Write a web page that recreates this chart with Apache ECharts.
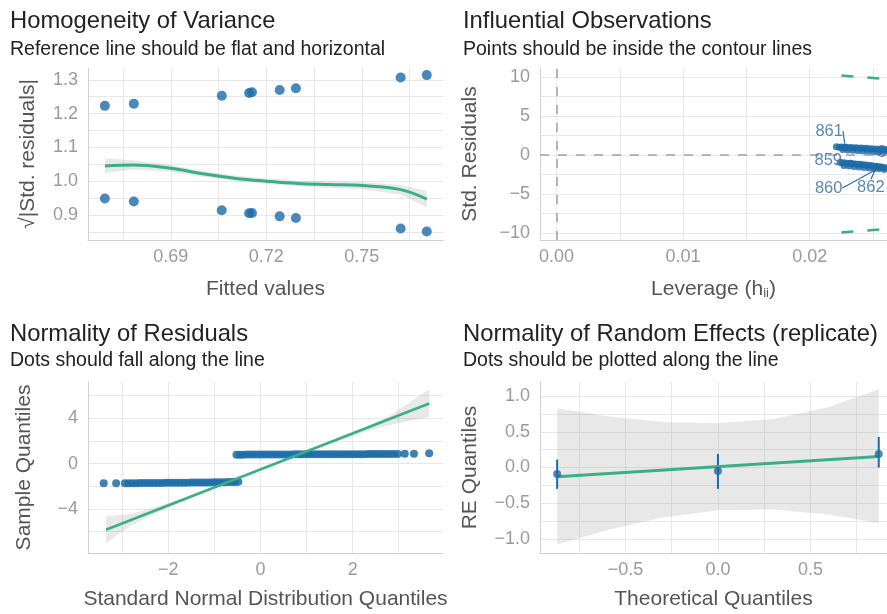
<!DOCTYPE html>
<html><head><meta charset="utf-8">
<script src="https://cdn.jsdelivr.net/npm/echarts@6/dist/echarts.min.js"></script>
<style>html,body{margin:0;padding:0;background:#fff}#c{width:887px;height:614px}</style>
</head><body><div id="c"></div>
<script>
// ---------- Panel 1: Homogeneity of Variance ----------
const hvFitted   = [0.6693, 0.6784, 0.7060, 0.7146, 0.7155, 0.7242, 0.7293, 0.7622, 0.7704];
const hvUpper    = [1.223, 1.229, 1.253, 1.261, 1.263, 1.270, 1.275, 1.307, 1.314];
const hvLower    = [0.949, 0.940, 0.914, 0.905, 0.906, 0.896, 0.891, 0.860, 0.851];
const hvSmoothX  = [0.6693, 0.6784, 0.690, 0.700, 0.710, 0.720, 0.730, 0.740, 0.750, 0.7622, 0.7704];
const hvSmoothY  = [1.045, 1.048, 1.038, 1.022, 1.009, 1.000, 0.993, 0.990, 0.987, 0.975, 0.947];
const hvSmoothLo = [1.024, 1.035, 1.028, 1.013, 1.001, 0.992, 0.985, 0.980, 0.976, 0.961, 0.923];
const hvSmoothHi = [1.068, 1.061, 1.048, 1.031, 1.017, 1.008, 1.001, 1.000, 0.998, 0.989, 0.972];
const hvXTicks = [0.69, 0.72, 0.75];
const hvXGrid  = [0.675, 0.69, 0.705, 0.72, 0.735, 0.75, 0.765];
const hvYTicks = [0.9, 1.0, 1.1, 1.2, 1.3];
const hvYGrid  = [0.85, 0.9, 0.95, 1.0, 1.05, 1.1, 1.15, 1.2, 1.25, 1.3];

// ---------- Panel 2: Influential Observations ----------
const infUpLev  = [0.0221, 0.0223, 0.0225, 0.0227, 0.0229, 0.0231, 0.0233, 0.0235, 0.0237, 0.0239, 0.0241, 0.0243, 0.0245, 0.0247, 0.0249, 0.0251, 0.0253, 0.0255, 0.0257, 0.0259, 0.0261, 0.0263,
                   0.0226, 0.0230, 0.0234, 0.0238, 0.0242, 0.0246, 0.0250, 0.0254, 0.0258, 0.0262];
const infUpRes  = [1.05, 1.00, 1.02, 0.95, 0.98, 0.92, 0.95, 0.88, 0.92, 0.85, 0.88, 0.82, 0.85, 0.78, 0.80, 0.74, 0.76, 0.70, 0.72, 0.66, 0.68, 0.62,
                   0.70, 0.65, 0.60, 0.55, 0.52, 0.48, 0.42, 0.38, 0.34, 0.30];
const infLoLev  = [0.0224, 0.0226, 0.0228, 0.0230, 0.0232, 0.0234, 0.0236, 0.0238, 0.0240, 0.0242, 0.0244, 0.0246, 0.0248, 0.0250, 0.0252, 0.0254, 0.0256, 0.0258, 0.0260, 0.0262,
                   0.0227, 0.0231, 0.0235, 0.0239, 0.0243, 0.0247, 0.0251, 0.0255, 0.0259];
const infLoRes  = [-0.95, -1.00, -1.02, -1.08, -1.05, -1.12, -1.15, -1.20, -1.18, -1.26, -1.28, -1.33, -1.35, -1.42, -1.45, -1.50, -1.55, -1.60, -1.65, -1.70,
                   -1.35, -1.40, -1.48, -1.55, -1.60, -1.66, -1.72, -1.78, -1.85];
const infLabIds = ['861', '859', '863', '860', '862'];
const infLabLev = [0.0228, 0.0232, 0.0261, 0.0256, 0.0253];
const infLabRes = [1.00, -1.05, 0.62, -1.55, -1.50];
const infContX  = [0.0225, 0.0265];
const infContUp = [10.20, 9.65];
const infContLo = [-9.95, -9.40];
const infXTicks = [0, 0.01, 0.02];
const infXGrid  = [0, 0.005, 0.01, 0.015, 0.02, 0.025];
const infYTicks = [-10, -5, 0, 5, 10];
const infYGrid  = [-10, -7.5, -5, -2.5, 0, 2.5, 5, 7.5, 10];

// ---------- Panel 3: Normality of Residuals ----------
const qqLowX = [-3.40, -3.13, -2.94, -2.86, -2.78, -2.70, -2.62, -2.54, -2.46, -2.38, -2.30, -2.22, -2.14, -2.06, -1.98, -1.90, -1.82, -1.74, -1.66, -1.58, -1.50, -1.42, -1.34, -1.26, -1.18, -1.10, -1.02, -0.94, -0.86, -0.78, -0.70, -0.62, -0.55, -0.48];
const qqLowY = [-1.75, -1.74, -1.74, -1.73, -1.73, -1.73, -1.72, -1.72, -1.72, -1.72, -1.71, -1.71, -1.71, -1.70, -1.70, -1.70, -1.70, -1.69, -1.69, -1.69, -1.68, -1.68, -1.68, -1.67, -1.67, -1.67, -1.66, -1.66, -1.65, -1.65, -1.64, -1.63, -1.62, -1.60];
const qqUpX = [-0.52, -0.45, -0.38, -0.30, -0.22, -0.14, -0.06, 0.02, 0.10, 0.18, 0.26, 0.34, 0.42, 0.50, 0.58, 0.66, 0.74, 0.82, 0.90, 0.98, 1.06, 1.14, 1.22, 1.30, 1.38, 1.46, 1.54, 1.62, 1.70, 1.78, 1.86, 1.94, 2.02, 2.10, 2.18, 2.26, 2.34, 2.42, 2.50, 2.58, 2.66, 2.74, 2.82, 2.90, 2.98, 3.13, 3.33, 3.66];
const qqUpY = [0.78, 0.78, 0.78, 0.79, 0.79, 0.79, 0.79, 0.79, 0.80, 0.80, 0.80, 0.80, 0.80, 0.80, 0.80, 0.80, 0.81, 0.81, 0.81, 0.81, 0.81, 0.81, 0.81, 0.82, 0.82, 0.82, 0.82, 0.82, 0.82, 0.82, 0.83, 0.83, 0.83, 0.83, 0.83, 0.83, 0.84, 0.84, 0.84, 0.84, 0.84, 0.85, 0.85, 0.85, 0.85, 0.86, 0.87, 0.90];
const qqLineX = [-3.35, 3.66];
const qqLineY = [-5.85, 5.30];
const qqBandX  = [-3.35, -2.80, -2.20, -1.50, 0.00, 1.50, 2.20, 2.80, 3.66];
const qqBandLo = [-7.05, -5.45, -4.25, -3.00, -0.60, 1.70, 2.70, 3.40, 4.10];
const qqBandHi = [-4.65, -4.45, -3.75, -2.80, -0.50, 1.90, 3.10, 4.20, 6.55];
const qqXTicks = [-2, 0, 2];
const qqXGrid  = [-3, -2, -1, 0, 1, 2, 3];
const qqYTicks = [-4, 0, 4];
const qqYGrid  = [-6, -4, -2, 0, 2, 4, 6];

// ---------- Panel 4: Normality of Random Effects ----------
const reX  = [-0.8694, 0.0, 0.8694];
const reY  = [-0.09, -0.05, 0.19];
const reLo = [-0.30, -0.30, 0.00];
const reHi = [0.11, 0.19, 0.43];
const reLineX = [-0.8694, 0.8694];
const reLineY = [-0.13, 0.155];
const reBandX  = [-0.8694, -0.60, -0.30, 0.00, 0.30, 0.60, 0.8694];
const reBandLo = [-1.08, -0.88, -0.70, -0.60, -0.59, -0.66, -0.78];
const reBandHi = [0.83, 0.72, 0.64, 0.62, 0.68, 0.85, 1.10];
const reXTicks = [-0.5, 0, 0.5];
const reXGrid  = [-0.75, -0.5, -0.25, 0, 0.25, 0.5, 0.75];
const reYTicks = [-1, -0.5, 0, 0.5, 1];
const reYGrid  = [-1, -0.75, -0.5, -0.25, 0, 0.25, 0.5, 0.75, 1];

// ---------- drawing ----------
const FONT = '"Liberation Sans", Arial, Helvetica, sans-serif';
const GREEN = '#3aaf85', BLUE = '#1b6ca8';
const GRIDC = '#e8e8e8';
const minus = s => s.replace('-', '\u2212');
const zip = (a, b) => a.map((v, i) => [v, b[i]]);

function mkAxis(isX, gi, min, max, labels, lines, digits, name, gap, extra) {
  return Object.assign({
    type: 'value', gridIndex: gi, min: min, max: max,
    axisLine: {show: true, onZero: false, lineStyle: {color: '#d0d0d0', width: 1}},
    axisTick: {show: false, customValues: lines},
    axisLabel: {customValues: labels, formatter: v => minus(Number(v).toFixed(digits)),
      color: '#9a9a9a', fontSize: 18, fontFamily: FONT, margin: isX ? 8 : 10},
    splitLine: {show: true, lineStyle: {color: GRIDC, width: 1}},
    minorSplitLine: {show: false},
    name: name, nameLocation: 'middle', nameGap: gap,
    nameTextStyle: {color: '#555555', fontSize: 21, fontFamily: FONT}
  }, extra || {});
}

function band(gi, xs, lo, hi) {
  return {
    type: 'custom', xAxisIndex: gi, yAxisIndex: gi, silent: true, z: 1, clip: true,
    data: [[xs[0], lo[0]]],
    renderItem: (params, api) => {
      const pts = [];
      for (let i = 0; i < xs.length; i++) pts.push(api.coord([xs[i], hi[i]]));
      for (let i = xs.length - 1; i >= 0; i--) pts.push(api.coord([xs[i], lo[i]]));
      return {type: 'polygon', shape: {points: pts}, style: {fill: 'rgba(140,140,140,0.2)'}};
    }
  };
}

const titles = [
  {text: 'Homogeneity of Variance', left: 10, top: 9, sz: 23.8},
  {text: 'Reference line should be flat and horizontal', left: 10, top: 40, sz: 19.5},
  {text: 'Influential Observations', left: 463, top: 9, sz: 23.8},
  {text: 'Points should be inside the contour lines', left: 463, top: 40, sz: 19.5},
  {text: 'Normality of Residuals', left: 10, top: 322, sz: 23.8},
  {text: 'Dots should fall along the line', left: 10, top: 351, sz: 19.5},
  {text: 'Normality of Random Effects (replicate)', left: 463, top: 322, sz: 23.8},
  {text: 'Dots should be plotted along the line', left: 463, top: 351, sz: 19.5}
].map(t => ({text: t.text, left: t.left, top: t.top, padding: 0,
  textStyle: {fontFamily: FONT, fontSize: t.sz, fontWeight: 'normal', color: '#222222'}}));

const option = {
  backgroundColor: '#ffffff',
  animation: false,
  title: titles,
  grid: [
    {left: 88, top: 68, width: 355, height: 172, outerBoundsMode: 'none'},
    {left: 540, top: 68, width: 347, height: 172, outerBoundsMode: 'none'},
    {left: 88, top: 382, width: 355, height: 171, outerBoundsMode: 'none'},
    {left: 540, top: 382, width: 347, height: 171, outerBoundsMode: 'none'}
  ],
  xAxis: [
    mkAxis(true, 0, 0.6640, 0.7755, hvXTicks, hvXGrid, 2, 'Fitted values', 39),
    mkAxis(true, 1, -0.0013, 0.0261, infXTicks, infXGrid, 2, 'Leverage (h{s|ii})', 39,
      {nameTextStyle: {color: '#555555', fontSize: 21, fontFamily: FONT,
        rich: {s: {fontSize: 13, lineHeight: 8, verticalAlign: 'bottom', color: '#555555', fontFamily: FONT}}}}),
    mkAxis(true, 2, -3.74, 3.96, qqXTicks, qqXGrid, 0, 'Standard Normal Distribution Quantiles', 36),
    mkAxis(true, 3, -0.962, 0.914, reXTicks, reXGrid, 1, 'Theoretical Quantiles', 36)
  ],
  yAxis: [
    mkAxis(false, 0, 0.826, 1.335, hvYTicks, hvYGrid, 1, '\u221A|Std. residuals|', 49),
    mkAxis(false, 1, -10.9, 11.15, infYTicks, infYGrid, 0, 'Std. Residuals', 59),
    mkAxis(false, 2, -7.9, 7.2, qqYTicks, qqYGrid, 0, 'Sample Quantiles', 53),
    mkAxis(false, 3, -1.2, 1.2, reYTicks, reYGrid, 1, 'RE Quantiles', 59)
  ],
  series: [
    // panel 1
    band(0, hvSmoothX, hvSmoothLo, hvSmoothHi),
    {type: 'scatter', xAxisIndex: 0, yAxisIndex: 0, symbolSize: 10, itemStyle: {color: BLUE}, z: 3,
      data: zip(hvFitted, hvUpper)},
    {type: 'scatter', xAxisIndex: 0, yAxisIndex: 0, symbolSize: 10, itemStyle: {color: BLUE}, z: 3,
      data: zip(hvFitted, hvLower)},
    {type: 'line', xAxisIndex: 0, yAxisIndex: 0, smooth: 0.4, showSymbol: false, z: 4,
      lineStyle: {color: GREEN, width: 3}, data: zip(hvSmoothX, hvSmoothY)},

    // panel 2
    {type: 'line', xAxisIndex: 1, yAxisIndex: 1, showSymbol: false, z: 2, clip: true,
      lineStyle: {color: '#9a9a9a', width: 1.5, type: [8, 8]}, data: [],
      markLine: {silent: true, symbol: 'none', label: {show: false},
        lineStyle: {color: '#a0a0a0', width: 1.5, type: [9, 9]},
        data: [{xAxis: 0}, {yAxis: 0}]}},
    {type: 'scatter', xAxisIndex: 1, yAxisIndex: 1, symbolSize: 7, itemStyle: {color: BLUE}, z: 3, clip: true,
      data: zip(infUpLev, infUpRes)},
    {type: 'scatter', xAxisIndex: 1, yAxisIndex: 1, symbolSize: 7, itemStyle: {color: BLUE}, z: 3, clip: true,
      data: zip(infLoLev, infLoRes)},
    {type: 'scatter', xAxisIndex: 1, yAxisIndex: 1, symbolSize: 7, itemStyle: {color: BLUE}, z: 5, clip: true,
      data: infLabIds.map((id, i) => ({name: id, value: [infLabLev[i], infLabRes[i]]})),
      label: {show: true, formatter: p => p.name, color: '#2f6aa6', fontSize: 16.5, fontFamily: FONT, position: 'inside'},
      labelLine: {show: true, lineStyle: {color: '#2f6aa6', width: 1.2}},
      labelLayout: p => {
        const off = [[-16, -16], [-22, -3], [4, 2], [-52, 21], [-6, 21]][p.dataIndex];
        return {dx: off[0], dy: off[1]};
      }},
    {type: 'line', xAxisIndex: 1, yAxisIndex: 1, showSymbol: false, z: 4, clip: true,
      lineStyle: {color: GREEN, width: 2.5, type: [12, 14]}, data: zip(infContX, infContUp)},
    {type: 'line', xAxisIndex: 1, yAxisIndex: 1, showSymbol: false, z: 4, clip: true,
      lineStyle: {color: GREEN, width: 2.5, type: [12, 14]}, data: zip(infContX, infContLo)},

    // panel 3
    band(2, qqBandX, qqBandLo, qqBandHi),
    {type: 'line', xAxisIndex: 2, yAxisIndex: 2, showSymbol: false, z: 4,
      lineStyle: {color: GREEN, width: 2.5}, data: zip(qqLineX, qqLineY)},
    {type: 'scatter', xAxisIndex: 2, yAxisIndex: 2, symbolSize: 8, itemStyle: {color: BLUE, opacity: 0.85}, z: 3,
      data: zip(qqLowX, qqLowY)},
    {type: 'scatter', xAxisIndex: 2, yAxisIndex: 2, symbolSize: 8, itemStyle: {color: BLUE, opacity: 0.85}, z: 3,
      data: zip(qqUpX, qqUpY)},

    // panel 4
    band(3, reBandX, reBandLo, reBandHi),
    {type: 'line', xAxisIndex: 3, yAxisIndex: 3, showSymbol: false, z: 4,
      lineStyle: {color: GREEN, width: 3}, data: zip(reLineX, reLineY)},
    {type: 'custom', xAxisIndex: 3, yAxisIndex: 3, z: 3, clip: true,
      data: reX.map((x, i) => [x, reLo[i], reHi[i]]), encode: {x: 0, y: [1, 2]},
      renderItem: (params, api) => {
        const a = api.coord([api.value(0), api.value(1)]);
        const b = api.coord([api.value(0), api.value(2)]);
        return {type: 'line', shape: {x1: a[0], y1: a[1], x2: b[0], y2: b[1]},
          style: {stroke: BLUE, lineWidth: 2}};
      }},
    {type: 'scatter', xAxisIndex: 3, yAxisIndex: 3, symbolSize: 8, itemStyle: {color: BLUE}, z: 5, clip: true,
      data: zip(reX, reY)}
  ]
};

const chart = echarts.init(document.getElementById('c'));
chart.setOption(option);
</script>
</body></html>
